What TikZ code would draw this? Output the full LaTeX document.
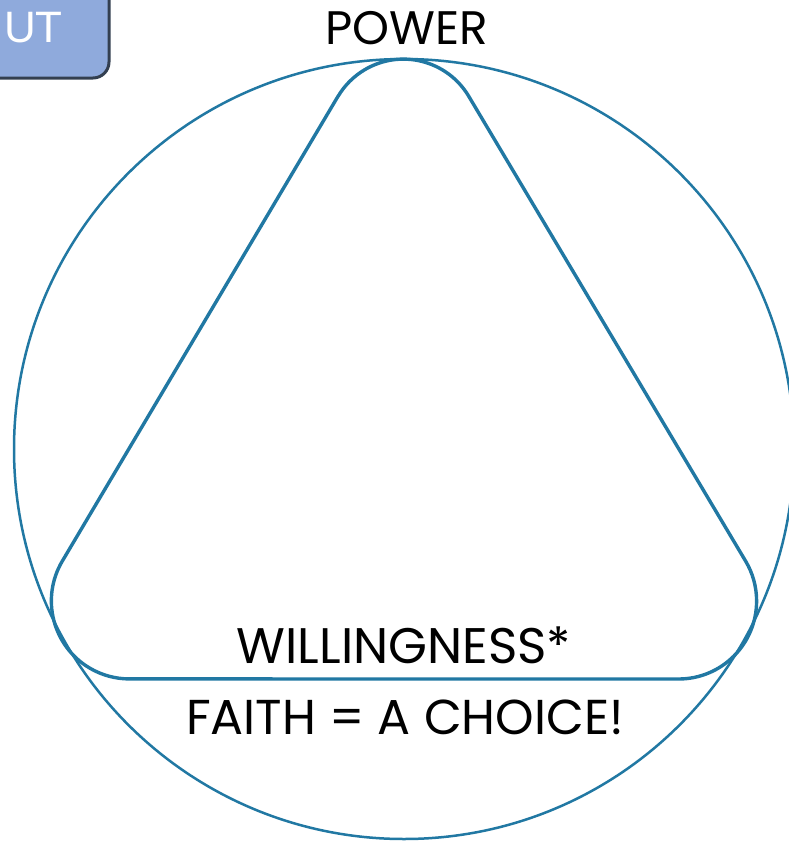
\documentclass[tikz,border=0pt]{standalone}
\usepackage{fontspec}
\setmainfont{Poppins}
\newfontfamily\boxfont{Liberation Sans}
\definecolor{ring}{RGB}{33,120,163}
\definecolor{boxfill}{RGB}{143,170,220}
\definecolor{boxline}{RGB}{51,63,80}
\tikzset{
  ringline/.style={draw=ring, line width=2.5pt},
  triline/.style={draw=ring, line width=3.4pt, line join=round},
  label/.style={anchor=base, inner sep=0pt, text=black},
}
\begin{document}
\begin{tikzpicture}[x=1pt,y=-1pt]
\clip (0,0) rectangle (789,841);
\fill[white] (0,0) rectangle (789,841);
% tab box
\draw[fill=boxfill, draw=boxline, line width=3pt, rounded corners=16pt] (-40,-40) rectangle (109,78);
\node[anchor=base west, inner sep=0pt, font=\boxfont\fontsize{44}{48}\selectfont, text=white] (tab) at (4,42) {UT};
% circle
\node[circle, ringline, minimum size=780pt, inner sep=0pt] (ring) at (404,449) {};
% rounded triangle
\draw[triline] (338.0,96.3) -- (62.3,561.1)
  arc[start angle=210.7, end angle=90, radius=78]
  -- (678.6,679)
  arc[start angle=90, end angle=-30.8, radius=78]
  -- (468.7,96.2)
  arc[start angle=-30.8, end angle=-149.3, radius=76]
  -- cycle;
% labels
\node[label, font=\fontsize{47}{50}\selectfont] (power) at (407,44) {POWER};
\node[label, font=\fontsize{50}{54}\selectfont] (will) at (404,663) {WILLINGNESS*};
\node[label, font=\fontsize{49}{54}\selectfont] (faith) at (405,734) {FAITH = A CHOICE!};
\end{tikzpicture}
\end{document}
